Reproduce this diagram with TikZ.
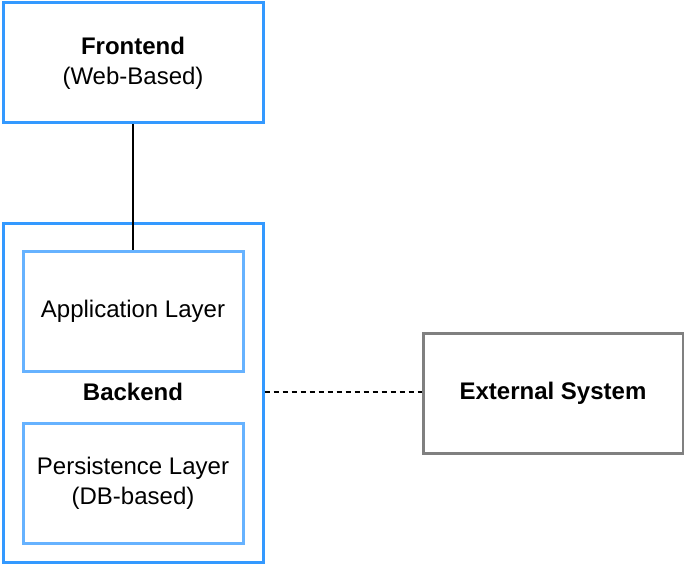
\documentclass[tikz,border=0pt]{standalone}
\usepackage{fontspec}
\setmainfont{Liberation Sans}
\definecolor{outerblue}{HTML}{3399FF}
\definecolor{innerblue}{HTML}{66B2FF}
\definecolor{extgray}{HTML}{808080}
\begin{document}
\begin{tikzpicture}[x=1pt,y=-1pt,font=\fontsize{24}{30}\selectfont,
  block/.style={draw=outerblue, line width=3pt, align=center, inner sep=0pt},
  layer/.style={draw=innerblue, line width=3pt, align=center, inner sep=0pt,
    minimum width=220pt, minimum height=120pt}]
  \useasboundingbox (0,0) rectangle (684,564);

  \node[block, minimum width=260pt, minimum height=120pt] (front) at (133,63)
    {\textbf{Frontend}\\(Web-Based)};
  \node[block, minimum width=260pt, minimum height=339pt] (back) at (133,392.5) {};
  \node[font=\fontsize{24}{30}\selectfont\bfseries] (backlabel) at (133,392) {Backend};
  \node[layer] (app) at (133,311) {Application Layer};
  \node[layer] (pers) at (133,483) {Persistence Layer\\(DB-based)};

  % externes System
  \node[block, draw=extgray, minimum width=260pt, minimum height=120pt] (ext) at (553,393)
    {\textbf{External System}};

  \draw[line width=1.5pt] (front.south) -- (app.north);
  \draw[line width=1.5pt, dash pattern=on 5pt off 4pt] (back.east |- 0,392) -- (ext.west |- 0,392);
\end{tikzpicture}
\end{document}
